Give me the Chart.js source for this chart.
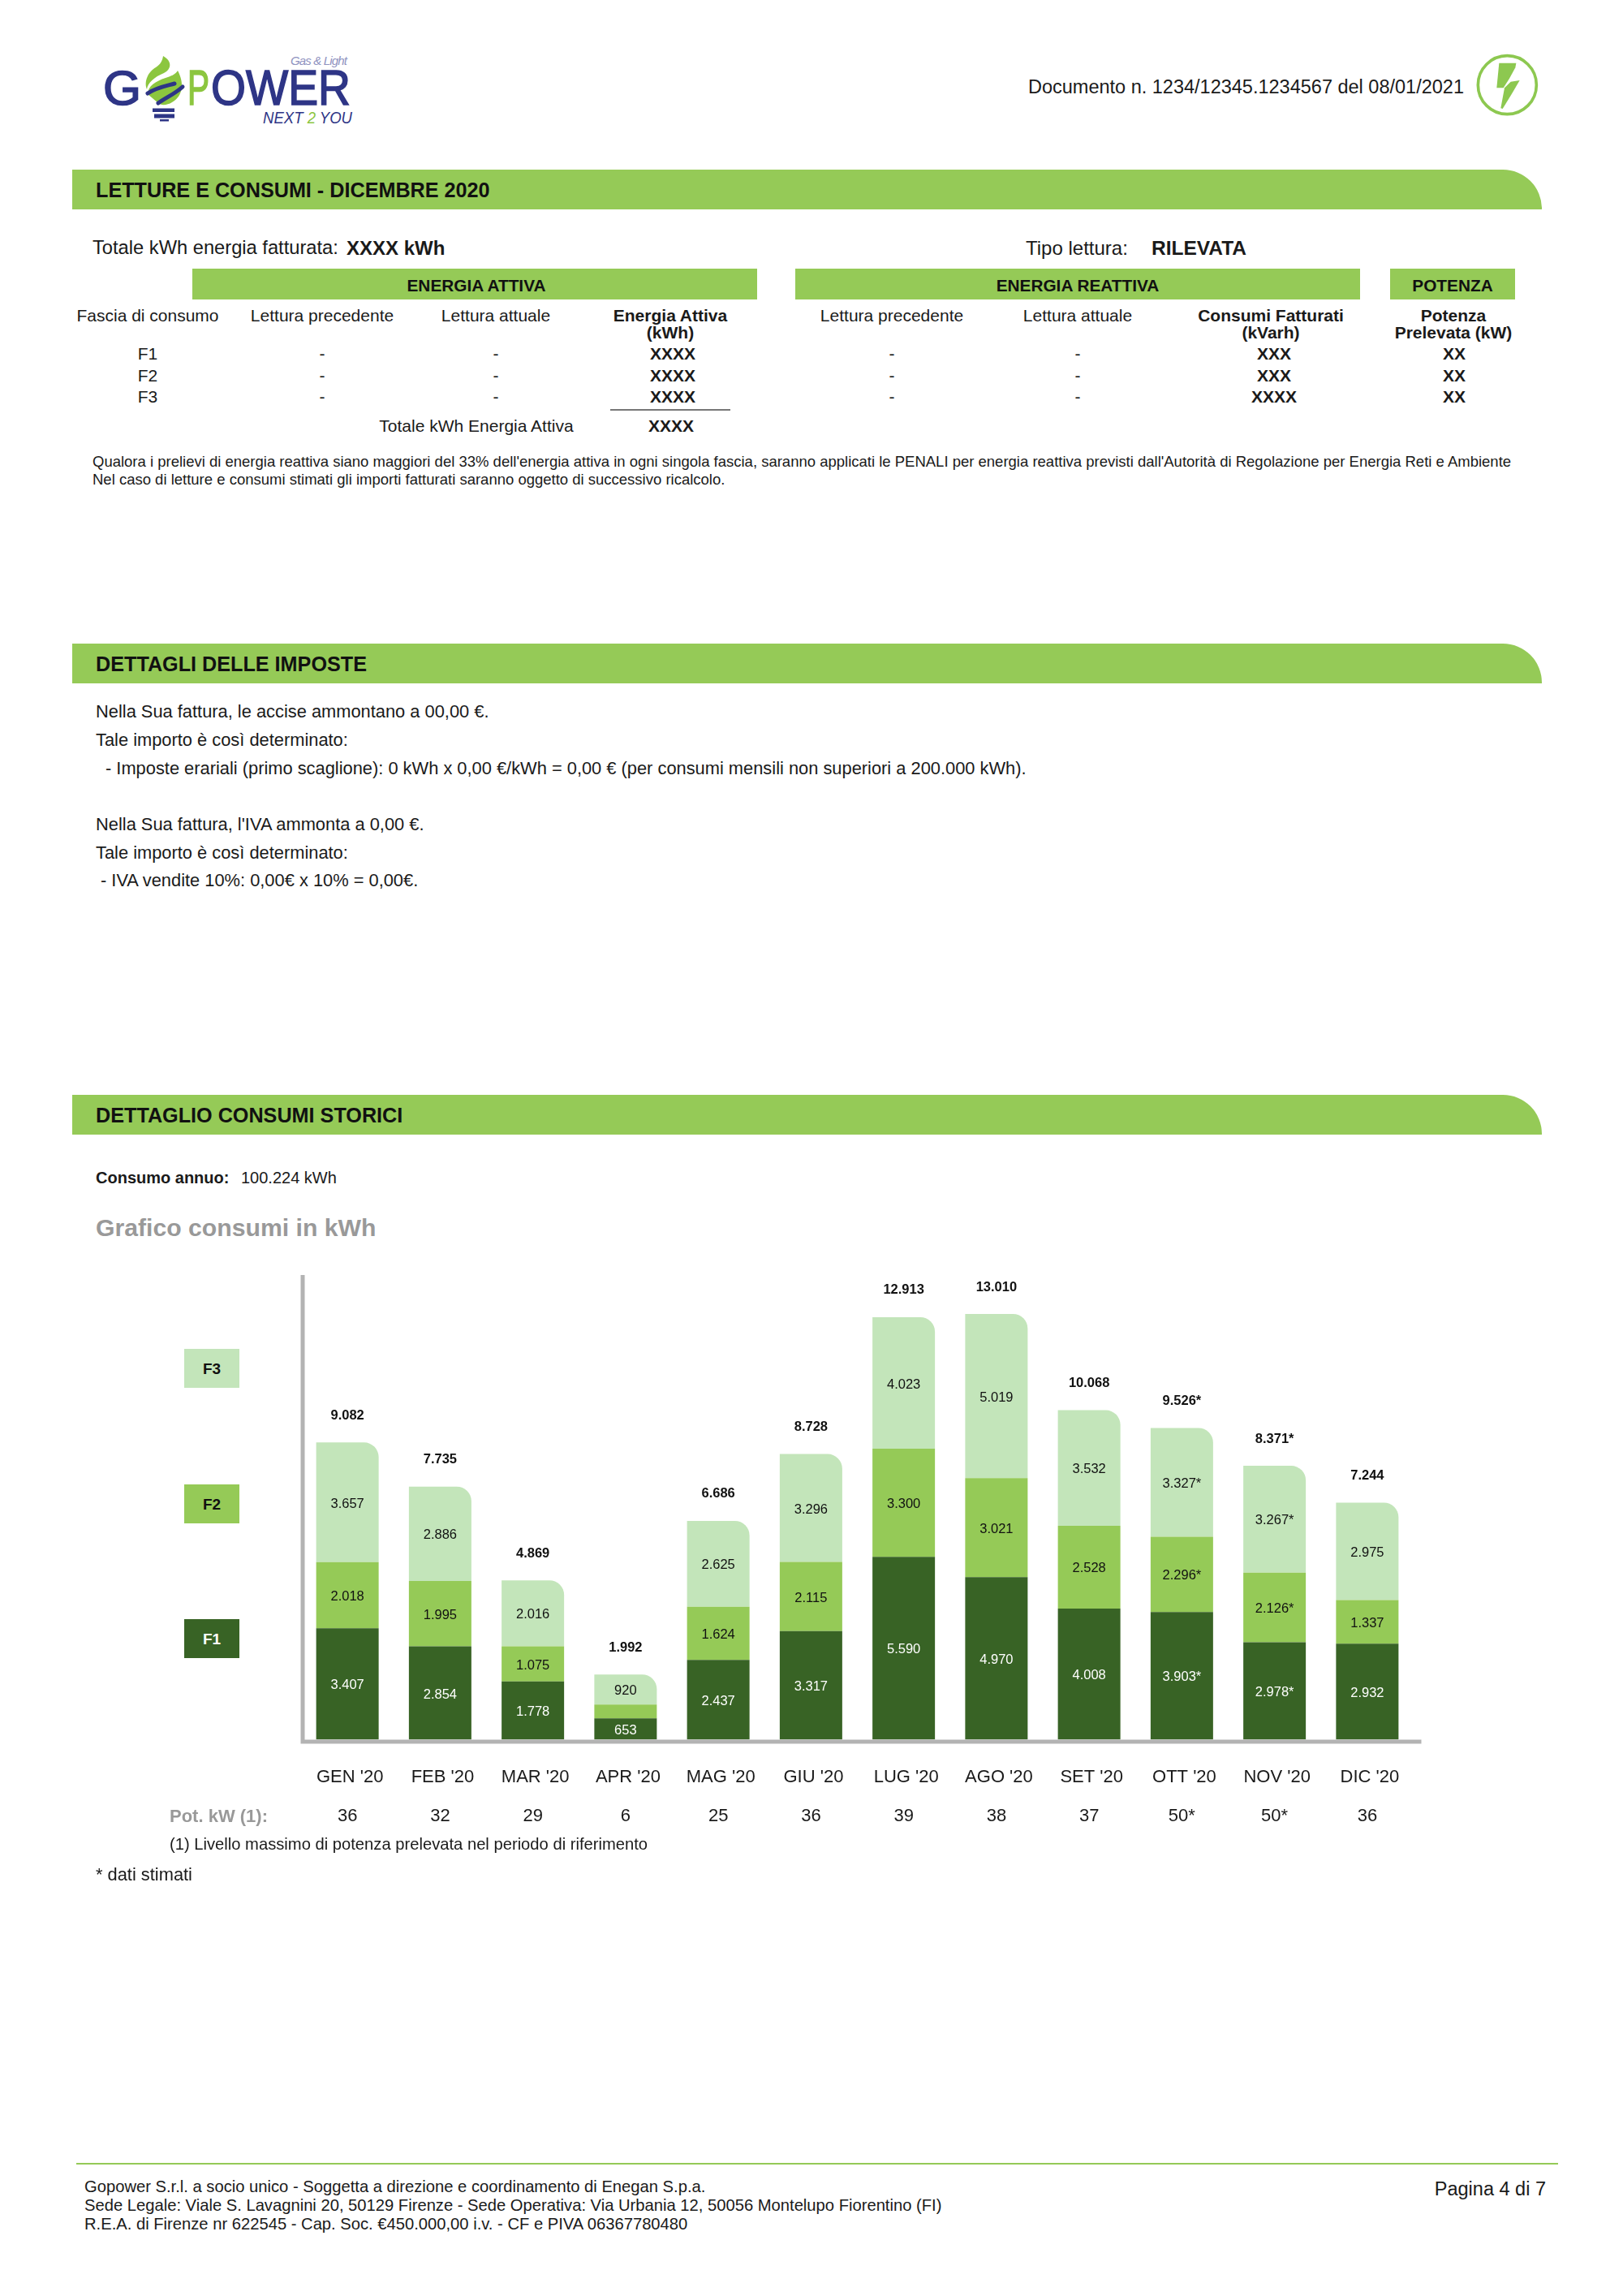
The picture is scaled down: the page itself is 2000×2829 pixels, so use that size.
<!DOCTYPE html>
<html lang="it">
<head>
<meta charset="utf-8">
<title>Dettaglio consumi storici</title>
<script src="https://cdn.jsdelivr.net/npm/chart.js@4"></script>
<style>
  html, body { margin: 0; padding: 0; background: #fff; }
  body { position: relative; width: 2000px; height: 2829px; overflow: hidden; font-family: "Liberation Sans", Arial, sans-serif; color: #1a1a1a; }
  .l, .c, .r { position: absolute; white-space: nowrap; line-height: 1; }
  .l { transform: translateY(-50%); }
  .c { transform: translate(-50%, -50%); }
  .r { transform: translate(-100%, -50%); }
  b { font-weight: 700; }
  .band { position: absolute; left: 89px; width: 1811px; height: 49px; background: #95ca57; border-top-right-radius: 48px; }
  .band span { position: absolute; left: 29px; top: 26px; transform: translateY(-50%); font-weight: 700; font-size: 25.2px; line-height: 1; color: #111; white-space: nowrap; }
  .head { position: absolute; top: 331px; height: 38px; background: #95ca57; font-weight: 700; font-size: 20.8px; line-height: 41px; text-align: center; color: #111; }
  .t { font-size: 21px; }
  .d { font-size: 21.85px; }
  .key { position: absolute; left: 227px; width: 68px; height: 48px; font-weight: 700; font-size: 19px; line-height: 50px; text-align: center; }
  #chart { position: absolute; left: 200px; top: 1550px; }
</style>
</head>
<body>

<!-- logo -->
<svg style="position:absolute;left:100px;top:40px" width="400" height="140" viewBox="0 0 400 140" font-family="Liberation Sans">
  <text x="27" y="89" font-size="60" fill="#2e3586" stroke="#2e3586" stroke-width="1.6" textLength="47" lengthAdjust="spacingAndGlyphs">G</text>
  <text x="131" y="89" font-size="61" fill="#8cc63f" stroke="#8cc63f" stroke-width="1.6" textLength="27" lengthAdjust="spacingAndGlyphs">P</text>
  <text x="160" y="89" font-size="61" fill="#2e3586" stroke="#2e3586" stroke-width="1.6" textLength="172" lengthAdjust="spacingAndGlyphs">OWER</text>
  <path d="M101 29 C112 35 112 45 102 50 C90 55 82 62 81 70 C77 60 83 48 92 43 C98 39 100 35 101 29Z" fill="#8cc63f"/>
  <path d="M119 47 C127 62 126 78 112 86 C106 90 98 90 95 87 L82 76 C82 66 92 60 104 56 C110 54 116 52 119 47Z" fill="#8cc63f"/>
  <path d="M82 75 C92 68 104 66 115 63" fill="none" stroke="#2e3586" stroke-width="5" stroke-linecap="round"/>
  <path d="M95 87 C105 80 115 76 125 67" fill="none" stroke="#2e3586" stroke-width="5" stroke-linecap="round"/>
  <rect x="88" y="93.5" width="27" height="4.5" fill="#2e3586"/>
  <rect x="90" y="100.5" width="25" height="5" fill="#2e3586"/>
  <rect x="97" y="107" width="11" height="2.5" fill="#2e3586"/>
  <text x="258" y="40" font-size="15" font-style="italic" fill="#8f93bf" textLength="70">Gas &amp; Light</text>
  <text x="224" y="112" font-size="21" font-style="italic" fill="#2e3586" textLength="110" lengthAdjust="spacingAndGlyphs">NEXT <tspan fill="#8cc63f">2</tspan> YOU</text>
</svg>

<div class="r" style="left:1804px;top:108px;font-size:23.5px">Documento n. 1234/12345.1234567 del 08/01/2021</div>

<svg style="position:absolute;left:1780px;top:40px" width="180" height="120" viewBox="0 0 540 360">
  <circle cx="232" cy="194" r="108" fill="none" stroke="#8dc850" stroke-width="11"/>
  <path d="M202 113 L265 113 L262 130 L240 170 L218 205 L193 205Z" fill="#8dc850"/>
  <path d="M278 177 L245 182 L222 205 L208 280 L215 282 L250 225Z" fill="#8dc850"/>
</svg>

<!-- letture e consumi -->
<div class="band" style="top:209px"><span>LETTURE E CONSUMI - DICEMBRE 2020</span></div>
<div class="l" style="left:114px;top:306px;font-size:23.7px">Totale kWh energia fatturata:</div>
<div class="l" style="left:427px;top:306px;font-size:24px"><b>XXXX kWh</b></div>
<div class="l" style="left:1264px;top:306px;font-size:24px">Tipo lettura:</div>
<div class="l" style="left:1419px;top:306px;font-size:24.5px"><b>RILEVATA</b></div>

<div class="head" style="left:237px;width:696px;padding-left:4px;box-sizing:border-box">ENERGIA ATTIVA</div>
<div class="head" style="left:980px;width:696px">ENERGIA REATTIVA</div>
<div class="head" style="left:1713px;width:154px">POTENZA</div>

<div class="c t" style="left:182px;top:388px">Fascia di consumo</div>
<div class="c t" style="left:397px;top:388px">Lettura precedente</div>
<div class="c t" style="left:611px;top:388px">Lettura attuale</div>
<div class="c t" style="left:826px;top:388px"><b>Energia Attiva</b></div>
<div class="c t" style="left:826px;top:409px"><b>(kWh)</b></div>
<div class="c t" style="left:1099px;top:388px">Lettura precedente</div>
<div class="c t" style="left:1328px;top:388px">Lettura attuale</div>
<div class="c t" style="left:1566px;top:388px"><b>Consumi Fatturati</b></div>
<div class="c t" style="left:1566px;top:409px"><b>(kVarh)</b></div>
<div class="c t" style="left:1791px;top:388px"><b>Potenza</b></div>
<div class="c t" style="left:1791px;top:409px"><b>Prelevata (kW)</b></div>

<div class="c t" style="left:182px;top:435px">F1</div>
<div class="c t" style="left:397px;top:435px">-</div>
<div class="c t" style="left:611px;top:435px">-</div>
<div class="c t" style="left:829px;top:435px"><b>XXXX</b></div>
<div class="c t" style="left:1099px;top:435px">-</div>
<div class="c t" style="left:1328px;top:435px">-</div>
<div class="c t" style="left:1570px;top:435px"><b>XXX</b></div>
<div class="c t" style="left:1792px;top:435px"><b>XX</b></div>

<div class="c t" style="left:182px;top:462px">F2</div>
<div class="c t" style="left:397px;top:462px">-</div>
<div class="c t" style="left:611px;top:462px">-</div>
<div class="c t" style="left:829px;top:462px"><b>XXXX</b></div>
<div class="c t" style="left:1099px;top:462px">-</div>
<div class="c t" style="left:1328px;top:462px">-</div>
<div class="c t" style="left:1570px;top:462px"><b>XXX</b></div>
<div class="c t" style="left:1792px;top:462px"><b>XX</b></div>

<div class="c t" style="left:182px;top:488px">F3</div>
<div class="c t" style="left:397px;top:488px">-</div>
<div class="c t" style="left:611px;top:488px">-</div>
<div class="c t" style="left:829px;top:488px"><b>XXXX</b></div>
<div class="c t" style="left:1099px;top:488px">-</div>
<div class="c t" style="left:1328px;top:488px">-</div>
<div class="c t" style="left:1570px;top:488px"><b>XXXX</b></div>
<div class="c t" style="left:1792px;top:488px"><b>XX</b></div>

<div style="position:absolute;left:752px;top:504px;width:148px;height:2px;background:#777"></div>
<div class="c t" style="left:587px;top:524px">Totale kWh Energia Attiva</div>
<div class="c t" style="left:827px;top:524px"><b>XXXX</b></div>

<div class="l" style="left:114px;top:569px;font-size:18.5px">Qualora i prelievi di energia reattiva siano maggiori del 33% dell'energia attiva in ogni singola fascia, saranno applicati le PENALI per energia reattiva previsti dall'Autorità di Regolazione per Energia Reti e Ambiente</div>
<div class="l" style="left:114px;top:591px;font-size:18.5px">Nel caso di letture e consumi stimati gli importi fatturati saranno oggetto di successivo ricalcolo.</div>

<!-- imposte -->
<div class="band" style="top:793px"><span>DETTAGLI DELLE IMPOSTE</span></div>
<div class="l d" style="left:118px;top:877px">Nella Sua fattura, le accise ammontano a 00,00 €.</div>
<div class="l d" style="left:118px;top:912px">Tale importo è così determinato:</div>
<div class="l d" style="left:130px;top:947px">- Imposte erariali (primo scaglione): 0 kWh x 0,00 €/kWh = 0,00 € (per consumi mensili non superiori a 200.000 kWh).</div>
<div class="l d" style="left:118px;top:1016px">Nella Sua fattura, l'IVA ammonta a 0,00 €.</div>
<div class="l d" style="left:118px;top:1051px">Tale importo è così determinato:</div>
<div class="l d" style="left:124px;top:1085px">- IVA vendite 10%: 0,00€ x 10% = 0,00€.</div>

<!-- consumi storici -->
<div class="band" style="top:1349px"><span>DETTAGLIO CONSUMI STORICI</span></div>
<div class="l" style="left:118px;top:1451px;font-size:20px"><b>Consumo annuo:</b></div>
<div class="l" style="left:297px;top:1451px;font-size:20px">100.224 kWh</div>
<div class="l" style="left:118px;top:1513px;font-size:30.2px;color:#999"><b>Grafico consumi in kWh</b></div>

<div class="key" style="top:1662px;background:#c3e5ba;color:#111">F3</div>
<div class="key" style="top:1829px;background:#95ca57;color:#111">F2</div>
<div class="key" style="top:1995px;background:#386325;color:#fff">F1</div>

<canvas id="chart" width="1600" height="750"></canvas>

<div class="l" style="left:209px;top:2238px;font-size:22px;color:#999"><b>Pot. kW (1):</b></div>
<div class="l" style="left:209px;top:2272px;font-size:20.2px">(1) Livello massimo di potenza prelevata nel periodo di riferimento</div>
<div class="l d" style="left:118px;top:2310px">* dati stimati</div>

<!-- footer -->
<div style="position:absolute;left:94px;top:2665px;width:1826px;height:2px;background:#95ca57"></div>
<div class="l" style="left:104px;top:2694px;font-size:20.2px">Gopower S.r.l. a socio unico - Soggetta a direzione e coordinamento di Enegan S.p.a.</div>
<div class="l" style="left:104px;top:2717px;font-size:20.2px">Sede Legale: Viale S. Lavagnini 20, 50129 Firenze - Sede Operativa: Via Urbania 12, 50056 Montelupo Fiorentino (FI)</div>
<div class="l" style="left:104px;top:2740px;font-size:20.2px">R.E.A. di Firenze nr 622545 - Cap. Soc. €450.000,00 i.v. - CF e PIVA 06367780480</div>
<div class="r" style="left:1905px;top:2698px;font-size:23.5px">Pagina 4 di 7</div>

<script>
// ─── Data ─────────────────────────────────────────────────────────
const months = ["GEN '20", "FEB '20", "MAR '20", "APR '20", "MAG '20", "GIU '20", "LUG '20", "AGO '20", "SET '20", "OTT '20", "NOV '20", "DIC '20"];
const f1 = [3407, 2854, 1778, 653, 2437, 3317, 5590, 4970, 4008, 3903, 2978, 2932];
const f2 = [2018, 1995, 1075, 419, 1624, 2115, 3300, 3021, 2528, 2296, 2126, 1337];
const f3 = [3657, 2886, 2016, 920, 2625, 3296, 4023, 5019, 3532, 3327, 3267, 2975];
const totals = [9082, 7735, 4869, 1992, 6686, 8728, 12913, 13010, 10068, 9526, 8371, 7244];
const potenza = ["36", "32", "29", "6", "25", "36", "39", "38", "37", "50*", "50*", "36"];
const estimated = [false, false, false, false, false, false, false, false, false, true, true, false];

const F1_COLOR = "#386325";
const F2_COLOR = "#95ca57";
const F3_COLOR = "#c3e5ba";
const AXIS_COLOR = "#b3b3b3";
const FONT = '"Liberation Sans", Arial, sans-serif';

// the APR F2 segment carries no label in the original, it is too thin
const MIN_LABELLED_VALUE = 500;

// ─── Helpers ──────────────────────────────────────────────────────

/** 12913 -> "12.913", with the star on estimated months */
function formatKwh(value, index) {
  const text = String(value).replace(/\B(?=(\d{3})+$)/g, ".");
  return estimated[index] ? text + "*" : text;
}

// ─── Plugins ──────────────────────────────────────────────────────

// L shaped axis: the horizontal arm runs past the last category
const axisLines = {
  id: "axisLines",
  afterDatasetsDraw(chart) {
    const { ctx, chartArea } = chart;
    const left = chartArea.left + 2;
    const bottom = chartArea.bottom + 2.5;
    ctx.save();
    ctx.strokeStyle = AXIS_COLOR;
    ctx.lineWidth = 5;
    ctx.beginPath();
    ctx.moveTo(left, chartArea.top);
    ctx.lineTo(left, bottom);
    ctx.lineTo(chartArea.right + 9.5, bottom);
    ctx.stroke();
    ctx.restore();
  },
};

// value inside every segment, bold total above every bar
const barLabels = {
  id: "barLabels",
  afterDatasetsDraw(chart) {
    const { ctx } = chart;
    ctx.save();
    ctx.textAlign = "center";
    ctx.textBaseline = "middle";

    ctx.font = `16.5px ${FONT}`;
    chart.data.datasets.forEach((dataset, d) => {
      ctx.fillStyle = d === 0 ? "#ffffff" : "#111111";
      chart.getDatasetMeta(d).data.forEach((bar, i) => {
        if (dataset.data[i] < MIN_LABELLED_VALUE) return;
        const center = bar.getCenterPoint();
        ctx.fillText(formatKwh(dataset.data[i], i), center.x, center.y + 2);
      });
    });

    ctx.font = `bold 16.5px ${FONT}`;
    ctx.fillStyle = "#111111";
    chart.getDatasetMeta(2).data.forEach((bar, i) => {
      ctx.fillText(formatKwh(totals[i], i), bar.x, bar.y - 33);
    });
    ctx.restore();
  },
};

// ─── Chart ────────────────────────────────────────────────────────

new Chart(document.getElementById("chart"), {
  type: "bar",
  data: {
    labels: months,
    datasets: [
      { label: "F1", data: f1, backgroundColor: F1_COLOR },
      { label: "F2", data: f2, backgroundColor: F2_COLOR },
      { label: "F3", data: f3, backgroundColor: F3_COLOR, borderRadius: { topRight: 18 } },
    ],
  },
  options: {
    responsive: false,
    animation: false,
    layout: { padding: { left: 171, right: 58, top: 21, bottom: 0 } },
    plugins: { legend: { display: false }, tooltip: { enabled: false } },
    datasets: { bar: { categoryPercentage: 1, barPercentage: 0.674 } },
    scales: {
      x: {
        stacked: true,
        grid: { display: false },
        border: { display: false },
        afterFit: (scale) => { scale.height = 156.5; },
        ticks: {
          autoSkip: false,
          maxRotation: 0,
          padding: 14,
          color: "#1a1a1a",
          font: { family: FONT, size: 22, lineHeight: 2.195 },
          // month names sit a hair right of the bar centres
          callback: (value, i) => [" " + months[i], potenza[i]],
        },
      },
      y: {
        stacked: true,
        min: 0,
        max: 14200,
        grid: { display: false },
        border: { display: false },
        ticks: { display: false },
        afterFit: (scale) => { scale.width = 0; },
      },
    },
  },
  plugins: [axisLines, barLabels],
});
</script>
</body>
</html>
